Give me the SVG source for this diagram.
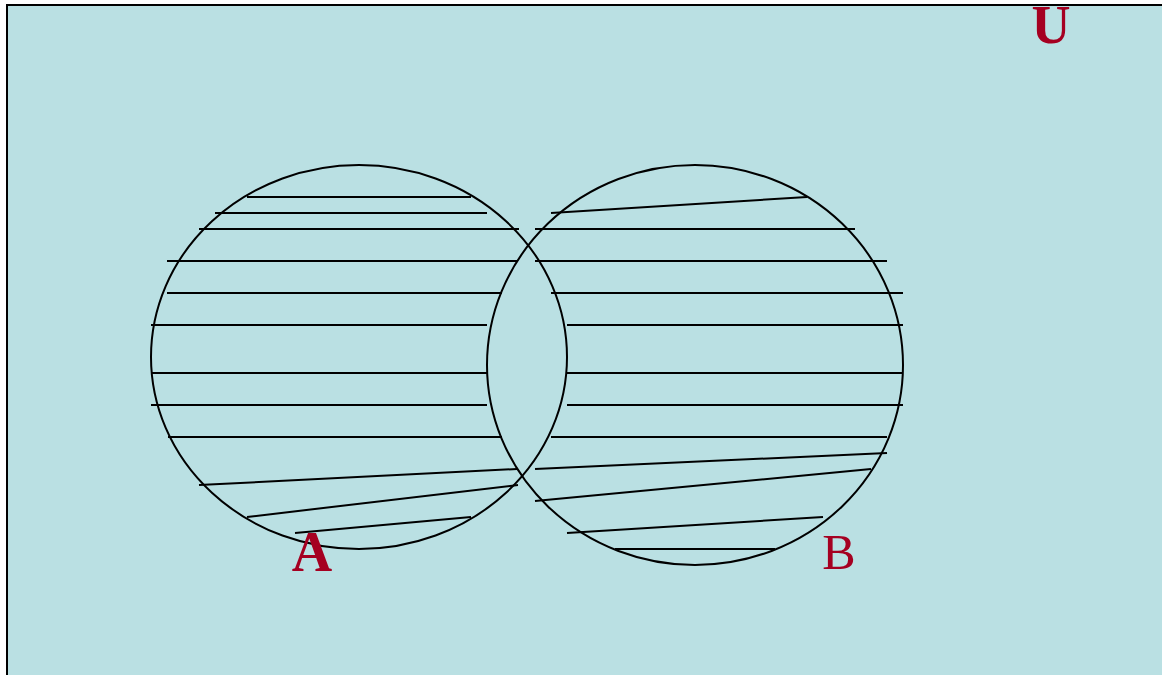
<svg xmlns="http://www.w3.org/2000/svg" width="1162" height="675" viewBox="0 0 1162 675">
<style>
.frame{fill:#BAE0E3;stroke:#000;stroke-width:2}
.set{fill:none;stroke:#000;stroke-width:2}
.h line{stroke:#000;stroke-width:2}
.lbl{font-family:"Liberation Serif",serif;fill:#A50021}
</style>
<rect class="frame" x="7" y="5" width="1160" height="680"/>
<g id="universe"><text class="lbl" x="1051" y="43" font-size="54" font-weight="bold" text-anchor="middle">U</text></g>
<g id="setA">
<ellipse class="set" cx="359" cy="357" rx="208" ry="192"/>
<text class="lbl" x="312" y="571" font-size="56" font-weight="bold" text-anchor="middle">A</text>
</g>
<g id="setB">
<ellipse class="set" cx="695" cy="365" rx="208" ry="200"/>
<text class="lbl" x="839" y="569" font-size="50" text-anchor="middle">B</text>
</g>
<g id="hatching" class="h">
<line x1="247" y1="197" x2="471" y2="197"/>
<line x1="215" y1="213" x2="487" y2="213"/>
<line x1="199" y1="229" x2="519" y2="229"/>
<line x1="167" y1="261" x2="518" y2="261"/>
<line x1="167" y1="293" x2="502" y2="293"/>
<line x1="151" y1="325" x2="487" y2="325"/>
<line x1="151" y1="373" x2="487" y2="373"/>
<line x1="151" y1="405" x2="487" y2="405"/>
<line x1="168" y1="437" x2="502" y2="437"/>
<line x1="199" y1="485" x2="517" y2="469"/>
<line x1="247" y1="517" x2="518" y2="485"/>
<line x1="295" y1="533" x2="471" y2="517"/>
<line x1="551" y1="213" x2="807" y2="197"/>
<line x1="535" y1="229" x2="855" y2="229"/>
<line x1="535" y1="261" x2="887" y2="261"/>
<line x1="551" y1="293" x2="903" y2="293"/>
<line x1="567" y1="325" x2="903" y2="325"/>
<line x1="567" y1="373" x2="903" y2="373"/>
<line x1="567" y1="405" x2="903" y2="405"/>
<line x1="551" y1="437" x2="887" y2="437"/>
<line x1="535" y1="469" x2="887" y2="453"/>
<line x1="535" y1="501" x2="871" y2="469"/>
<line x1="567" y1="533" x2="823" y2="517"/>
<line x1="615" y1="549" x2="775" y2="549"/>
</g>
</svg>
